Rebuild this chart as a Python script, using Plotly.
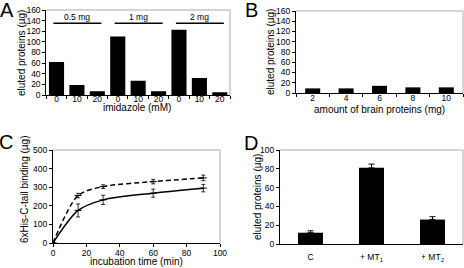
import plotly.graph_objects as go

# Panel A
a_labels = ["0", "10", "20", "0", "10", "20", "0", "10", "20"]
a_values = [62, 19, 7, 110, 27, 7, 123, 32, 5]
a_groups = ["0.5 mg", "1 mg", "2 mg"]

# Panel B
b_cats = ["2", "4", "6", "8", "10"]
b_values = [9, 9, 14, 11, 11]

# Panel C
c_time = [0, 15, 30, 60, 90]
c_solid = [0, 175, 232, 268, 295]
c_solid_err = [0, 35, 25, 22, 20]
c_dashed = [0, 255, 303, 330, 350]
c_dashed_err = [0, 12, 10, 12, 15]

# Panel D
d_cats = ["C", "+ MT<sub>1</sub>", "+ MT<sub>2</sub>"]
d_values = [12, 81, 26]
d_err = [2, 4, 3]

FONT = "Liberation Sans, Arial, sans-serif"
W, H = 464, 268
fig = go.Figure()

a_x = list(range(len(a_values)))
fig.add_trace(go.Bar(x=a_x, y=a_values, marker=dict(color="black", line=dict(width=0)),
                     width=0.74, xaxis="x", yaxis="y", showlegend=False))
b_x = list(range(len(b_values)))
fig.add_trace(go.Bar(x=b_x, y=b_values, marker=dict(color="black", line=dict(width=0)),
                     width=0.45, xaxis="x2", yaxis="y2", showlegend=False))
fig.add_trace(go.Scatter(x=c_time, y=c_solid, mode="lines+markers",
                         line=dict(color="black", width=1.5, shape="spline", smoothing=0.8),
                         marker=dict(symbol="line-ew", size=5, line=dict(color="black", width=1)),
                         error_y=dict(type="data", array=c_solid_err, color="black", thickness=0.8, width=2),
                         xaxis="x3", yaxis="y3", showlegend=False))
fig.add_trace(go.Scatter(x=c_time, y=c_dashed, mode="lines+markers",
                         line=dict(color="black", width=1.5, dash="5px,3px", shape="spline", smoothing=0.8),
                         marker=dict(symbol="line-ew", size=5, line=dict(color="black", width=1)),
                         error_y=dict(type="data", array=c_dashed_err, color="black", thickness=0.8, width=2),
                         xaxis="x3", yaxis="y3", showlegend=False))
d_x = list(range(len(d_values)))
fig.add_trace(go.Bar(x=d_x, y=d_values, marker=dict(color="black", line=dict(width=0)),
                     width=0.41,
                     error_y=dict(type="data", array=d_err, symmetric=False, arrayminus=[0]*3,
                                  color="black", thickness=1, width=3),
                     xaxis="x4", yaxis="y4", showlegend=False))

tickfont = dict(family=FONT, size=8.5, color="black")
titlefont = dict(family=FONT, size=10, color="black")

def yax(domain, rng, dtick, anchor):
    return dict(domain=domain, range=rng, dtick=dtick, anchor=anchor, showgrid=False, zeroline=False,
                showline=True, linecolor="black", linewidth=1, ticks="outside", ticklen=3,
                tickcolor="black", tickfont=tickfont, automargin=False, fixedrange=True)

def xax(domain, rng, anchor):
    return dict(domain=domain, range=rng, anchor=anchor, showgrid=False, zeroline=False,
                showline=True, linecolor="black", linewidth=1, tickfont=tickfont, tickcolor="black",
                automargin=False, fixedrange=True)

def fy(py):
    return 1 - py / H

layout = dict(width=W, height=H, margin=dict(l=0, r=0, t=0, b=0, autoexpand=False),
              paper_bgcolor="white", plot_bgcolor="white", font=dict(family=FONT, color="black"))

minor = dict(tickmode="linear", tick0=0.5, dtick=1, ticks="outside", ticklen=3, tickcolor="black")

# A
layout["xaxis"] = xax([46.3 / W, 230 / W], [-0.5, 8.5], "y")
layout["xaxis"].update(tickmode="array", tickvals=a_x, ticktext=a_labels, ticks="", minor=minor,
                       ticklabelstandoff=-4)
layout["yaxis"] = yax([fy(95), fy(10)], [0, 160], 20, "x")
# B
layout["xaxis2"] = xax([296 / W, 463 / W], [-0.5, 4.5], "y2")
layout["xaxis2"].update(tickmode="array", tickvals=b_x, ticktext=b_cats, ticks="", minor=minor,
                        ticklabelstandoff=-3)
layout["yaxis2"] = yax([fy(93), fy(11)], [0, 160], 20, "x2")
# C
layout["xaxis3"] = xax([53 / W, 220 / W], [0, 100], "y3")
layout["xaxis3"].update(dtick=20, ticks="outside", ticklen=3, ticklabelstandoff=-1)
layout["yaxis3"] = yax([fy(243), fy(150)], [0, 500], 100, "x3")
# D
layout["xaxis4"] = xax([280 / W, 463 / W], [-0.5, 2.5], "y4")
layout["xaxis4"].update(tickmode="array", tickvals=d_x, ticktext=d_cats, ticks="", ticklabelstandoff=5)
layout["yaxis4"] = yax([fy(244), fy(150)], [0, 100], 20, "x4")

fig.update_layout(**layout)

# gray top/right frames
for xr, yr in [("x domain", "y domain"), ("x2 domain", "y2 domain"),
               ("x3 domain", "y3 domain"), ("x4 domain", "y4 domain")]:
    fig.add_shape(type="line", xref=xr, yref=yr, x0=0, x1=1, y0=1, y1=1, line=dict(color="#aaaaaa", width=1))
    fig.add_shape(type="line", xref=xr, yref=yr, x0=1, x1=1, y0=0, y1=1, line=dict(color="#aaaaaa", width=1))

# group lines in A
for g, name in enumerate(a_groups):
    fig.add_shape(type="line", xref="x", yref="y", x0=3 * g - 0.15, x1=3 * g + 2.2, y0=135, y1=135,
                  line=dict(color="black", width=1.5))
    fig.add_annotation(x=3 * g + 1.02, y=135, xref="x", yref="y", text=name, showarrow=False,
                       yanchor="bottom", yshift=-1, font=dict(family=FONT, size=8.5, color="black"))

# axis titles
xtitles = [("imidazole (mM)", 137, 107.5), ("amount of brain proteins (mg)", 379, 110),
           ("incubation time (min)", 136, 261)]
for text, px, py in xtitles:
    fig.add_annotation(x=px / W, y=fy(py), xref="paper", yref="paper", text=text, showarrow=False,
                       xanchor="center", yanchor="middle", font=titlefont)
ytitles = [("eluted proteins (µg)", 22, 53), ("eluted proteins (µg)", 270, 52),
           ("6xHis-C-tail binding (µg)", 24, 190), ("eluted proteins (µg)", 257, 197)]
for text, px, py in ytitles:
    fig.add_annotation(x=px / W, y=fy(py), xref="paper", yref="paper", text=text, showarrow=False,
                       textangle=-90, xanchor="center", yanchor="middle", font=titlefont)

# panel letters
for letter, px, py in [("A", 7, 10), ("B", 251, 10), ("C", 6, 142), ("D", 251, 143)]:
    fig.add_annotation(x=px / W, y=fy(py), xref="paper", yref="paper", text=letter, showarrow=False,
                       xanchor="center", yanchor="middle", font=dict(family=FONT, size=20, color="black"))

fig.write_html("out.html", config={"displayModeBar": False},
               post_script="document.body.style.margin='0';document.body.style.overflow='hidden';")
